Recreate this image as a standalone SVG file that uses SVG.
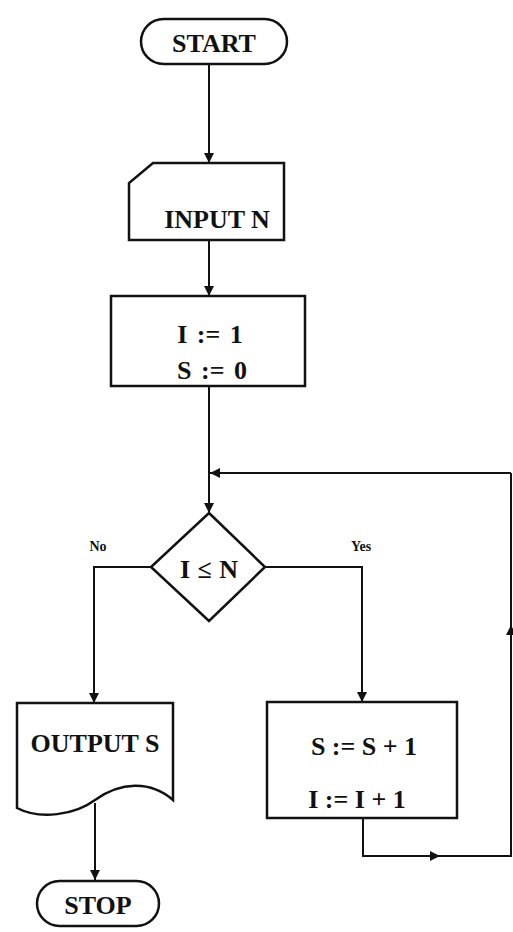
<svg xmlns="http://www.w3.org/2000/svg" width="513" height="932" viewBox="0 0 513 932">
<style>
.s{fill:#fff;stroke:#111;stroke-width:2.5}
.c{fill:none;stroke:#111;stroke-width:2}
.t{font-family:"Liberation Serif",serif;font-weight:bold;fill:#111;text-anchor:middle;font-size:26px}
.l{font-family:"Liberation Serif",serif;font-weight:bold;fill:#111;font-size:14px;text-anchor:middle}
</style>
<defs>
<marker id="a" viewBox="0 0 10 10" refX="10" refY="5" markerWidth="5" markerHeight="5" orient="auto"><path d="M0,0 L10,5 L0,10 z" fill="#111"/></marker>
</defs>
<rect width="513" height="932" fill="#fff"/>
<g id="connectors">
<path class="c" d="M209,64 V163" marker-end="url(#a)"/>
<path class="c" d="M209,240 V296" marker-end="url(#a)"/>
<path class="c" d="M209,386 V513" marker-end="url(#a)"/>
<path class="c" d="M511,473 H210" marker-end="url(#a)"/>
<path class="c" d="M151,567 H94 V703" marker-end="url(#a)"/>
<path class="c" d="M265,567 H362 V702" marker-end="url(#a)"/>
<path class="c" d="M95,803 V880" marker-end="url(#a)"/>
<path class="c" d="M363,818 V856 H440" marker-end="url(#a)"/>
<path class="c" d="M430,856 H511 V630"/>
<path class="c" d="M511,640 V625" marker-end="url(#a)"/>
<path class="c" d="M511,630 V473"/>
</g>
<g id="start">
<rect class="s" x="141" y="19" width="146" height="45" rx="22.5"/>
<text class="t" x="214" y="52" font-size="27">START</text>
</g>
<g id="input">
<path class="s" d="M153,163 H284 V240 H129 V183 Z"/>
<text class="t" x="217" y="228">INPUT N</text>
</g>
<g id="init">
<rect class="s" x="111" y="296" width="194" height="90"/>
<text class="t" x="210" y="343" word-spacing="3">I := 1</text>
<text class="t" x="212" y="379" word-spacing="3">S := 0</text>
</g>
<g id="decision">
<path class="s" d="M209,513 L265,567 L209,621 L151,567 Z"/>
<text class="t" x="209" y="578" font-size="31" word-spacing="1">I ≤ N</text>
<text class="l" x="98" y="551">No</text>
<text class="l" x="361" y="551">Yes</text>
</g>
<g id="output">
<path class="s" d="M17,703 H173 V800 C150,780 120,782 95,800 C75,815 40,820 17,808 Z"/>
<text class="t" x="95" y="752" font-size="25">OUTPUT S</text>
</g>
<g id="update">
<rect class="s" x="267" y="702" width="190" height="116"/>
<text class="t" x="364" y="755">S := S + 1</text>
<text class="t" x="357" y="808">I := I + 1</text>
</g>
<g id="stop">
<rect class="s" x="37" y="881" width="122" height="45" rx="22.5"/>
<text class="t" x="98" y="914">STOP</text>
</g>
</svg>
